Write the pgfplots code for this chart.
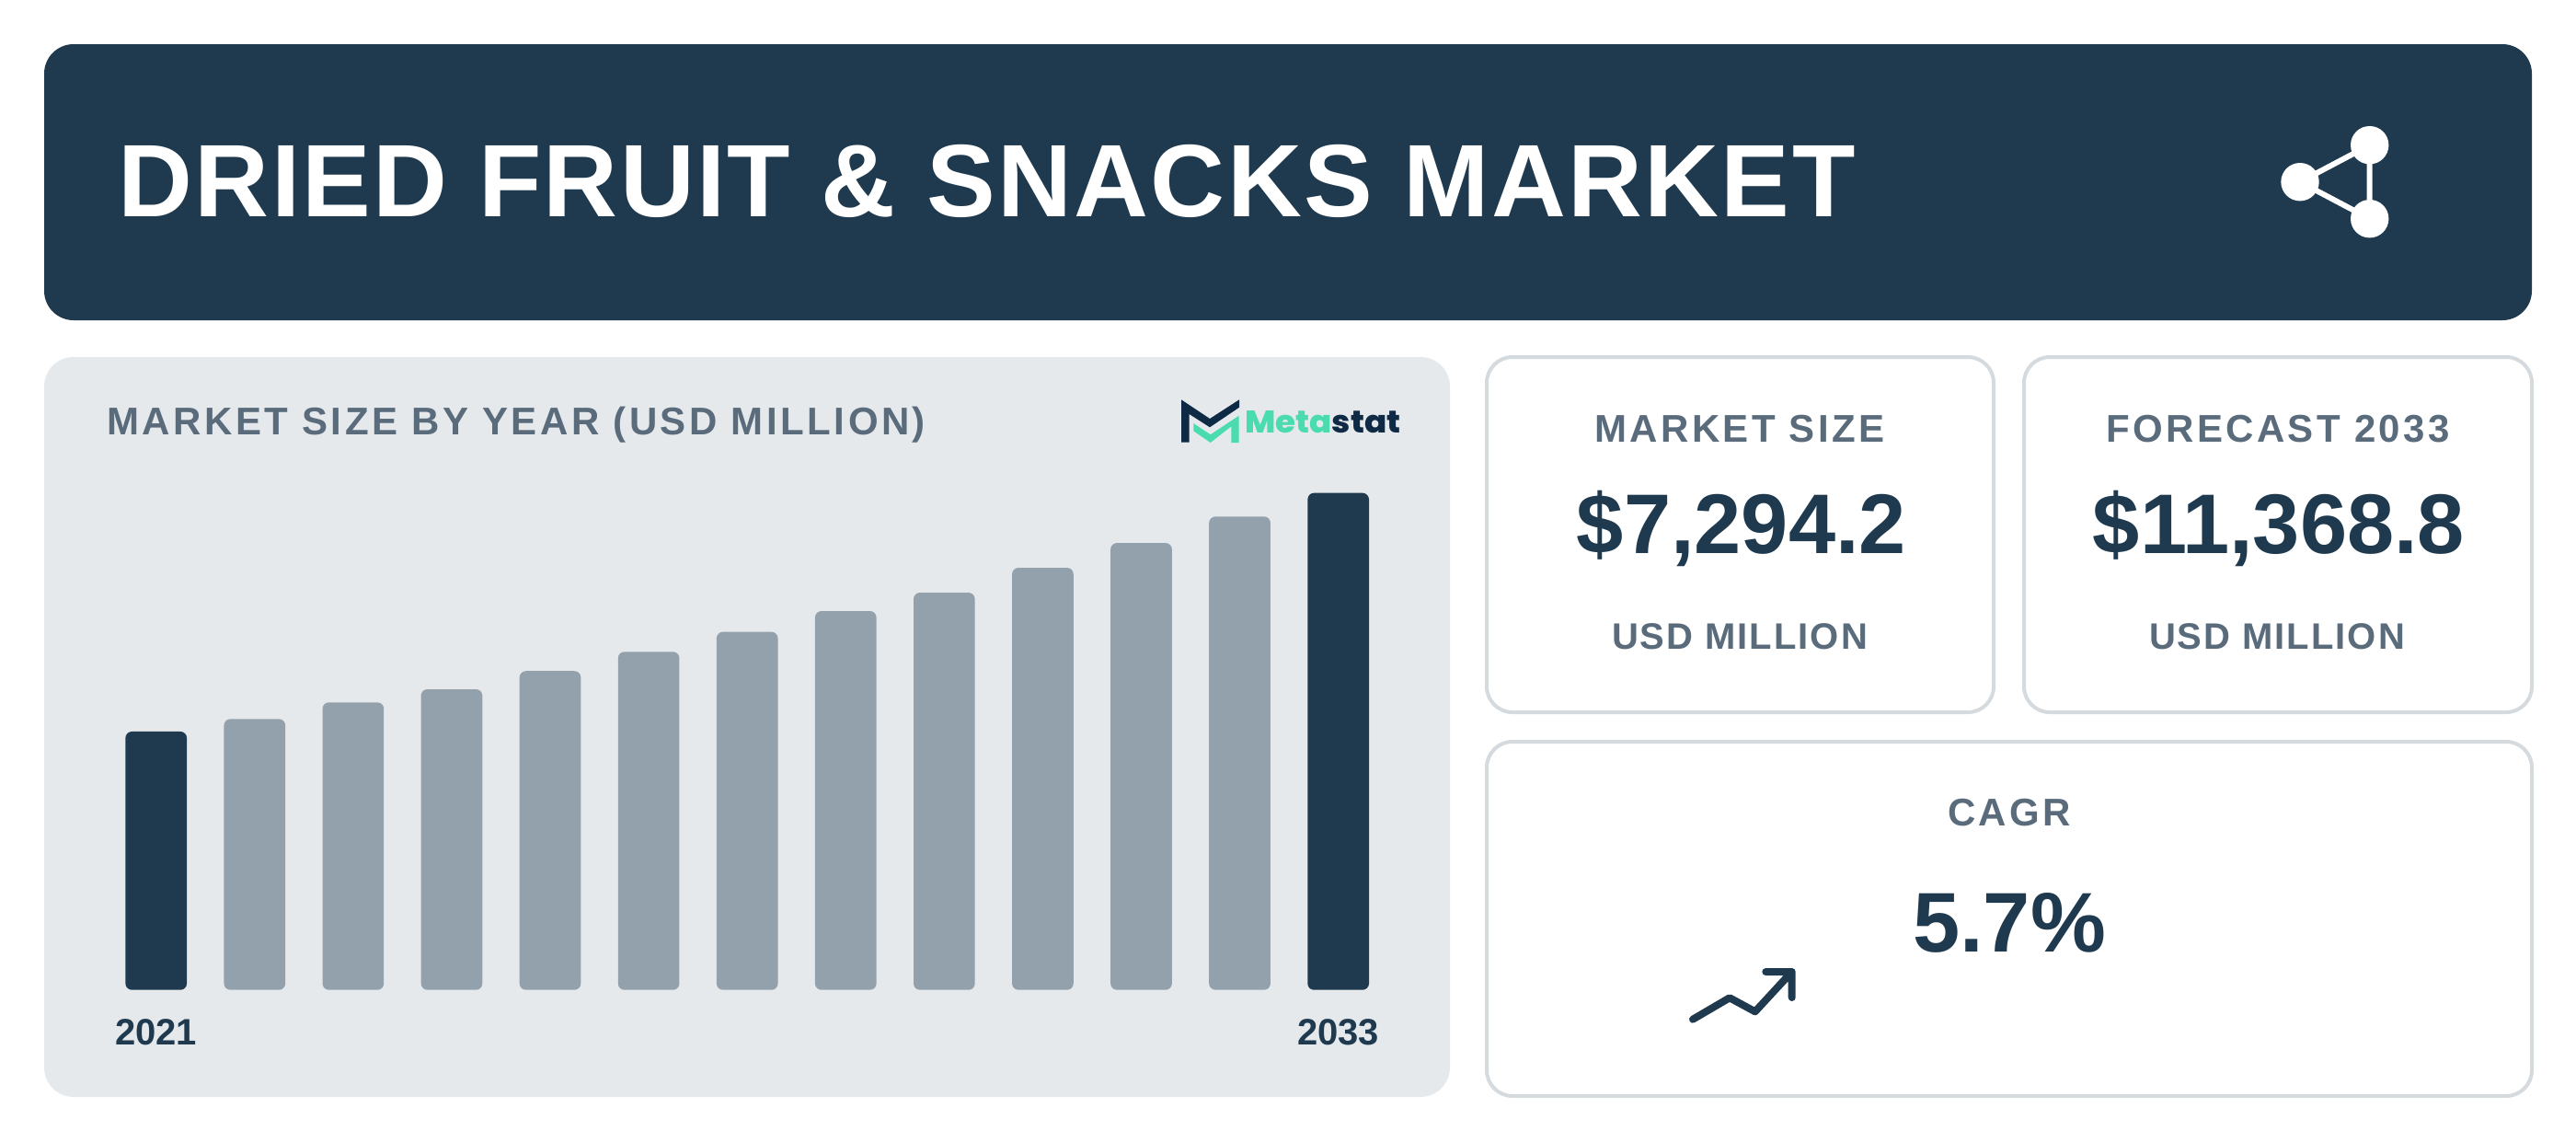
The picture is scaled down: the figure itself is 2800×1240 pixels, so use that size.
\documentclass[border=0pt]{standalone}
\usepackage{fontspec}
\setmainfont{Liberation Sans}
\usepackage{pgfplots}
\pgfplotsset{compat=1.18}
\definecolor{navy}{HTML}{1F3A4F}
\definecolor{barg}{HTML}{93A1AC}
\definecolor{panel}{HTML}{E5E9EC}
\definecolor{txtg}{HTML}{5A6B7C}
\definecolor{bord}{HTML}{D5DADF}
\definecolor{lgreen}{HTML}{4ADBAE}
\definecolor{ldark}{HTML}{0F2A44}
\newfontfamily\ttl[LetterSpace=2.13]{Liberation Sans}
\newfontfamily\subh[LetterSpace=8.3]{Liberation Sans}
\newfontfamily\subt[LetterSpace=8]{Liberation Sans}
\newfontfamily\subs[LetterSpace=5]{Liberation Sans}
\newfontfamily\logof{Poppins ExtraBold}
\newcommand{\fs}[1]{\fontsize{#1}{#1}\selectfont}
\pgfplotstableread{
x y
1 6198
2 6577
3 6878
4 7294.2
5 7735
6 8190
7 8667
8 9088
9 9657
10 10225
11 10830
}\midbars
\pgfplotstableread{
x y
0 5910
12 11368.8
}\endbars
\begin{document}
\begin{tikzpicture}
\begin{scope}[x=1pt,y=-1pt]
\fill[white] (0,0) rectangle (2800,1240);
\fill[navy,rounded corners=32pt] (48,48) rectangle (2752,348);
\node[anchor=base west,inner sep=0,text=white] at (128.5,235) {\ttl\bfseries\fs{112}DRIED FRUIT \& SNACKS MARKET};
% share icon
\draw[white,line width=6pt] (2575.7,157.7)--(2500,197.7)--(2575.7,237.7)--cycle;
\fill[white] (2500,197.7) circle[radius=20.7pt] (2575.7,157.7) circle[radius=20.7pt] (2575.7,237.7) circle[radius=20.7pt];
% panel
\fill[panel,rounded corners=32pt] (48,388) rectangle (1576,1192);
\node[anchor=base west,inner sep=0,text=txtg] at (116,472) {\subh\bfseries\fs{42}MARKET SIZE BY YEAR (USD MILLION)};
% logo
\fill[ldark] (1284,434.3)--(1315,455)--(1347,434.3)--(1347,442.7)--(1315,464.3)--(1292.7,450)--(1292.7,480.7)--(1284,480.7)--cycle;
\fill[lgreen] (1297.3,460)--(1315.7,472.3)--(1346.7,451.7)--(1346.7,481)--(1338.3,481)--(1338.3,463.3)--(1315.7,481)--(1297.3,468.3)--cycle;
\node[anchor=base west,inner sep=0] at (1353,470) {\scalebox{1.05}[1]{\logof\fs{34}\textcolor{lgreen}{Meta}\textcolor{ldark}{stat}}};
% cards
\draw[bord,line width=4pt,fill=white,rounded corners=28pt] (1616,388) rectangle (2167,774);
\draw[bord,line width=4pt,fill=white,rounded corners=28pt] (2200,388) rectangle (2752,774);
\draw[bord,line width=4pt,fill=white,rounded corners=28pt] (1616,806) rectangle (2752,1191);
\node[anchor=base,inner sep=0,text=txtg] at (1891,480) {\subt\bfseries\fs{42}MARKET SIZE};
\node[anchor=base,inner sep=0,text=navy] at (1893,601) {\bfseries\fs{92}\$7,294.2};
\node[anchor=base,inner sep=0,text=txtg] at (1891,705) {\subs\bfseries\fs{40}USD MILLION};
\node[anchor=base,inner sep=0,text=txtg] at (2476,480) {\subt\bfseries\fs{42}FORECAST 2033};
\node[anchor=base,inner sep=0,text=navy] at (2477,601) {\bfseries\fs{92}\$11,368.8};
\node[anchor=base,inner sep=0,text=txtg] at (2475,705) {\subs\bfseries\fs{40}USD MILLION};
\node[anchor=base,inner sep=0,text=txtg] at (2184,897) {\subt\bfseries\fs{42}CAGR};
\node[anchor=base,inner sep=0,text=navy] at (2184,1034) {\bfseries\fs{92}5.7\%};
\draw[navy,line width=8pt,line cap=round,line join=round] (1840,1107.7)--(1880,1084.3)--(1907.7,1099.3)--(1947.7,1056) (1919.3,1056)--(1947.7,1056)--(1947.7,1084);
\end{scope}
\begin{axis}[
  at={(116.2pt,-1075.7pt)},anchor=south west,
  scale only axis,width=1392pt,height=570pt,
  xmin=-0.5,xmax=12.5,ymin=0,ymax=12000,
  axis line style={draw=none},
  major tick length=0pt,
  ytick=\empty,
  xtick={0,12},xticklabels={2021,2033},
  xticklabel style={font=\bfseries\fs{40},text=navy,inner sep=0pt,yshift=-32pt},
  ybar,bar width=66.7pt,
  clip=false,
]
\addplot[ybar,bar shift=0pt,fill=barg,draw=none,rounded corners=7pt] table[x=x,y=y] {\midbars};
\addplot[ybar,bar shift=0pt,fill=navy,draw=none,rounded corners=7pt] table[x=x,y=y] {\endbars};
\end{axis}
\end{tikzpicture}
\end{document}
